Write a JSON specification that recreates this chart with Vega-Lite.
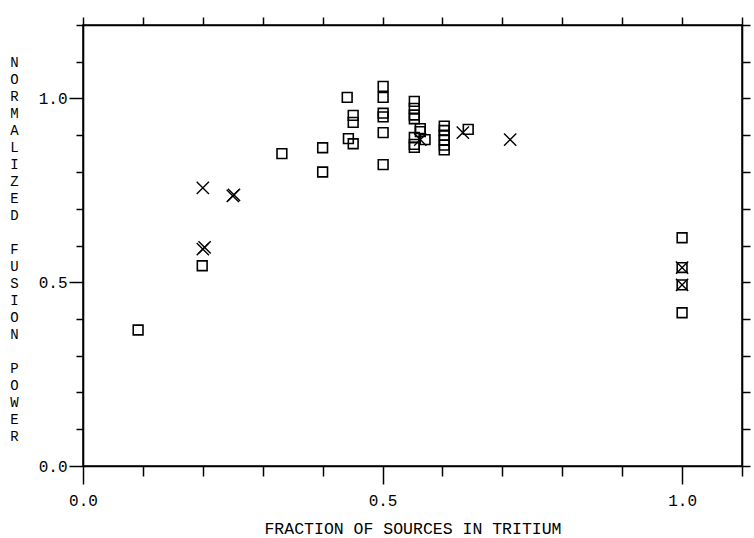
{
  "$schema": "https://vega.github.io/schema/vega-lite/v6.json",
  "width": 659,
  "height": 441,
  "autosize": {"type": "none"},
  "padding": {"left": 83, "top": 25, "right": 12, "bottom": 72},
  "background": "white",
  "config": {
    "view": {"stroke": "black", "strokeWidth": 1.5},
    "axis": {
      "grid": false,
      "domainColor": "black",
      "domainWidth": 1.6,
      "tickColor": "black",
      "tickWidth": 1.5,
      "labelColor": "black",
      "titleColor": "black",
      "labelFont": "Liberation Mono",
      "labelFontSize": 16,
      "titleFont": "Liberation Mono",
      "titleFontSize": 16.5,
      "titleFontWeight": "normal",
      "labelOverlap": false,
      "labelFlush": false
    }
  },
  "data": {
    "values": [
      {"f": 0.092, "p": 0.37, "marker": "square"},
      {"f": 0.199, "p": 0.545, "marker": "square"},
      {"f": 0.332, "p": 0.85, "marker": "square"},
      {"f": 0.40, "p": 0.866, "marker": "square"},
      {"f": 0.40, "p": 0.80, "marker": "square"},
      {"f": 0.441, "p": 1.003, "marker": "square"},
      {"f": 0.451, "p": 0.954, "marker": "square"},
      {"f": 0.451, "p": 0.935, "marker": "square"},
      {"f": 0.443, "p": 0.891, "marker": "square"},
      {"f": 0.451, "p": 0.877, "marker": "square"},
      {"f": 0.501, "p": 1.033, "marker": "square"},
      {"f": 0.501, "p": 1.003, "marker": "square"},
      {"f": 0.501, "p": 0.96, "marker": "square"},
      {"f": 0.501, "p": 0.95, "marker": "square"},
      {"f": 0.501, "p": 0.907, "marker": "square"},
      {"f": 0.501, "p": 0.82, "marker": "square"},
      {"f": 0.553, "p": 0.992, "marker": "square"},
      {"f": 0.553, "p": 0.973, "marker": "square"},
      {"f": 0.553, "p": 0.955, "marker": "square"},
      {"f": 0.553, "p": 0.945, "marker": "square"},
      {"f": 0.563, "p": 0.918, "marker": "square"},
      {"f": 0.563, "p": 0.91, "marker": "square"},
      {"f": 0.553, "p": 0.894, "marker": "square"},
      {"f": 0.571, "p": 0.888, "marker": "square"},
      {"f": 0.553, "p": 0.875, "marker": "square"},
      {"f": 0.553, "p": 0.867, "marker": "square"},
      {"f": 0.603, "p": 0.925, "marker": "square"},
      {"f": 0.603, "p": 0.913, "marker": "square"},
      {"f": 0.603, "p": 0.9, "marker": "square"},
      {"f": 0.603, "p": 0.887, "marker": "square"},
      {"f": 0.603, "p": 0.873, "marker": "square"},
      {"f": 0.603, "p": 0.86, "marker": "square"},
      {"f": 0.643, "p": 0.916, "marker": "square"},
      {"f": 1.0, "p": 0.621, "marker": "square"},
      {"f": 1.0, "p": 0.54, "marker": "square"},
      {"f": 1.0, "p": 0.493, "marker": "square"},
      {"f": 1.0, "p": 0.417, "marker": "square"},
      {"f": 0.2, "p": 0.757, "marker": "x"},
      {"f": 0.2, "p": 0.59, "marker": "x"},
      {"f": 0.203, "p": 0.595, "marker": "x"},
      {"f": 0.25, "p": 0.735, "marker": "x"},
      {"f": 0.252, "p": 0.738, "marker": "x"},
      {"f": 0.563, "p": 0.888, "marker": "x"},
      {"f": 0.634, "p": 0.907, "marker": "x"},
      {"f": 0.713, "p": 0.888, "marker": "x"},
      {"f": 1.0, "p": 0.54, "marker": "x"},
      {"f": 1.0, "p": 0.493, "marker": "x"}
    ]
  },
  "layer": [
    {
      "transform": [{"filter": "datum.marker === 'square'"}],
      "mark": {"type": "point", "shape": "square", "filled": false, "size": 95, "stroke": "black", "strokeWidth": 1.6, "opacity": 1},
      "encoding": {
        "x": {
          "field": "f", "type": "quantitative",
          "scale": {"domain": [0, 1.1], "nice": false, "zero": false},
          "axis": {
            "orient": "bottom",
            "values": [0, 0.5, 1.0],
            "tickSize": 18,
            "format": ".1f",
            "labelPadding": 8,
            "title": "FRACTION OF SOURCES IN TRITIUM",
            "titleY": 62,
            "titleBaseline": "middle"
          }
        },
        "y": {
          "field": "p", "type": "quantitative",
          "scale": {"domain": [0, 1.2], "nice": false, "zero": false},
          "axis": {
            "orient": "left",
            "values": [0, 0.5, 1.0],
            "tickSize": 14,
            "format": ".1f",
            "labelPadding": 2,
            "title": ["N","O","R","M","A","L","I","Z","E","D","\u2800","F","U","S","I","O","N","\u2800","P","O","W","E","R"],
            "titleFontSize": 14,
            "titleAngle": 0,
            "titleAlign": "center",
            "titleBaseline": "top",
            "titleLineHeight": 17,
            "titleX": -69,
            "titleY": 30
          }
        }
      }
    },
    {
      "transform": [{"filter": "datum.marker === 'x'"}],
      "mark": {"type": "point", "shape": "M-1,-1L1,1M1,-1L-1,1", "filled": false, "size": 150, "stroke": "black", "strokeWidth": 1.4, "opacity": 1},
      "encoding": {
        "x": {
          "field": "f", "type": "quantitative",
          "axis": {
            "orient": "top",
            "values": [0, 0.1, 0.2, 0.3, 0.4, 0.5, 0.6, 0.7, 0.8, 0.9, 1.0, 1.1],
            "tickSize": 8,
            "labels": false,
            "title": null
          }
        },
        "y": {
          "field": "p", "type": "quantitative",
          "axis": {
            "orient": "right",
            "values": [0, 0.1, 0.2, 0.3, 0.4, 0.5, 0.6, 0.7, 0.8, 0.9, 1.0, 1.1, 1.2],
            "tickSize": 8,
            "labels": false,
            "title": null
          }
        }
      }
    },
    {
      "mark": {"type": "point", "opacity": 0},
      "encoding": {
        "x": {
          "field": "f", "type": "quantitative",
          "axis": {
            "orient": "bottom",
            "values": [0.1, 0.2, 0.3, 0.4, 0.6, 0.7, 0.8, 0.9, 1.1],
            "tickSize": 10,
            "labels": false,
            "domain": false,
            "title": null
          }
        },
        "y": {
          "field": "p", "type": "quantitative",
          "axis": {
            "orient": "left",
            "values": [0.1, 0.2, 0.3, 0.4, 0.6, 0.7, 0.8, 0.9, 1.1, 1.2],
            "tickSize": 7,
            "labels": false,
            "domain": false,
            "title": null
          }
        }
      }
    }
  ],
  "resolve": {"axis": {"x": "independent", "y": "independent"}}
}
